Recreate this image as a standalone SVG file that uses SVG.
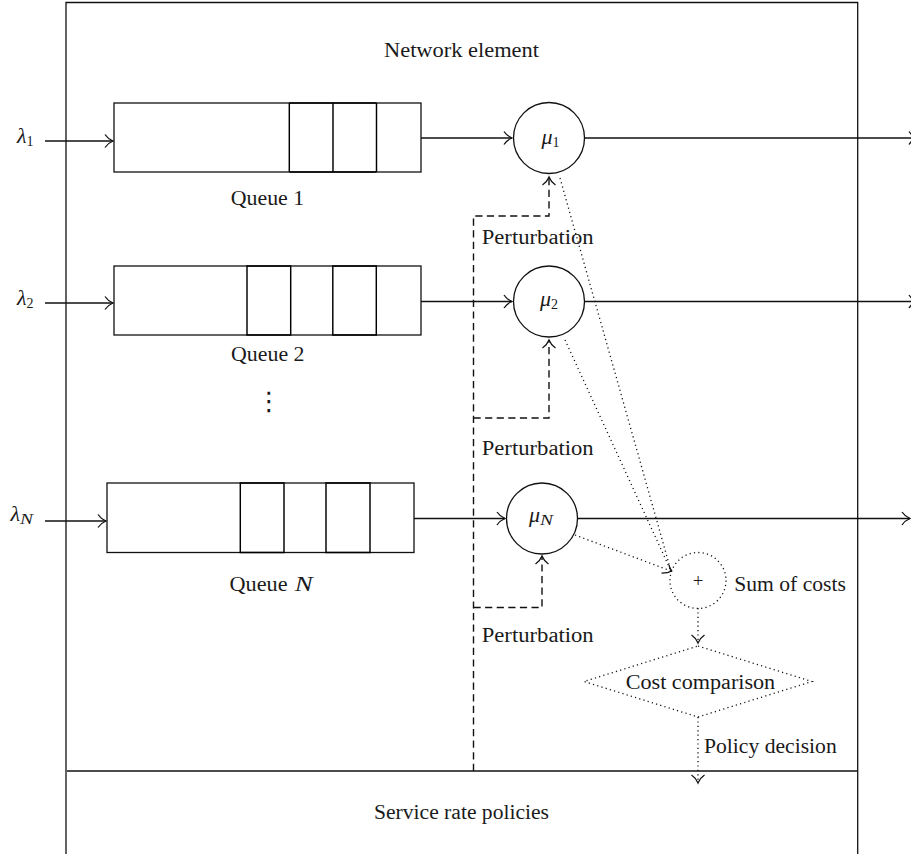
<svg xmlns="http://www.w3.org/2000/svg" width="911" height="854" viewBox="0 0 911 854">
<style>
text{font-family:"Liberation Serif","DejaVu Serif",serif;font-size:20px;fill:#1a1a1a}
.m{font-style:italic;font-size:22px}
.s{font-size:14px;font-style:normal}
.i{font-style:italic}
.box,.c{fill:none;stroke:#111;stroke-width:1.3}
.p{fill:none;stroke:#000;stroke-width:1.45}
.ln{fill:none;stroke:#111;stroke-width:1.4}
.d{fill:none;stroke:#111;stroke-width:1.4;stroke-dasharray:7.2 4.4}
.o{fill:none;stroke:#111;stroke-width:1.3;stroke-dasharray:1.2 3.2}
.ah{fill:none;stroke:#111;stroke-width:1.3}
</style>
<defs>
<marker id="a" markerUnits="userSpaceOnUse" markerWidth="14" markerHeight="18" refX="9" refY="9" orient="auto" overflow="visible"><path class="ah" d="M1,2.5 Q4,7 9,9 Q4,11 1,15.5"/></marker>
</defs>
<rect width="911" height="854" fill="#fff"/>
<g id="boundary">
<path class="box" d="M66,854V2.5H857.7V854"/>
<path class="ln" d="M67,771H857"/>
</g>
<g id="connectors">
<path class="ln" marker-end="url(#a)" d="M45,141H113"/>
<path class="ln" marker-end="url(#a)" d="M45,303H113"/>
<path class="ln" marker-end="url(#a)" d="M45,521H106"/>
<path class="ln" marker-end="url(#a)" d="M421,138H512"/>
<path class="ln" marker-end="url(#a)" d="M421,301.5H512"/>
<path class="ln" marker-end="url(#a)" d="M414,518.5H505"/>
<path class="ln" marker-end="url(#a)" d="M584.5,138H917"/>
<path class="ln" marker-end="url(#a)" d="M584.5,301.5H917"/>
<path class="ln" marker-end="url(#a)" d="M577.5,518.5H910"/>
<path class="d" marker-end="url(#a)" d="M473.5,771V216H549V177"/>
<path class="d" marker-end="url(#a)" d="M473.5,418H549V340"/>
<path class="d" marker-end="url(#a)" d="M473.5,607.5H542V556"/>
<path class="o" d="M560,178L671,571"/>
<path class="o" d="M565,340L671,571"/>
<path class="o" d="M575,535L671,571"/>
<path class="ah" d="M661.5,573.2Q668,573.2 672,571M669,565Q669.5,569 672,571"/>
<path class="o" marker-end="url(#a)" d="M698,608V643"/>
<path class="o" marker-end="url(#a)" d="M698,717V783"/>
</g>
<g id="queue1">
<rect class="box" x="114" y="103" width="307" height="69"/>
<path class="p" d="M289.3,103H376.5M289.3,172H376.5M289.3,103V172M333,103V172M376.5,103V172"/>
<text x="230.7" y="205" textLength="73.5" lengthAdjust="spacingAndGlyphs">Queue 1</text>
</g>
<g id="queue2">
<rect class="box" x="114" y="266" width="307" height="69"/>
<path class="p" d="M247,266H290.7V335H247ZM332.8,266H376.3V335H332.8Z"/>
<text x="231" y="361" textLength="73.5" lengthAdjust="spacingAndGlyphs">Queue 2</text>
</g>
<g id="queueN">
<rect class="box" x="107" y="483" width="307" height="69.5"/>
<path class="p" d="M240.3,483H284V552.5H240.3ZM326,483H370V552.5H326Z"/>
<text x="229.5" y="591"><tspan textLength="58" lengthAdjust="spacingAndGlyphs">Queue</tspan><tspan class="i" x="294.7" textLength="18" lengthAdjust="spacingAndGlyphs">N</tspan></text>
</g>
<g id="dots"><text x="256" y="410" style="font-family:'DejaVu Sans',sans-serif;font-size:26px">⋮</text></g>
<g id="mu1"><circle class="c" cx="549" cy="138" r="35.5"/><text class="m" x="541.5" y="144">μ<tspan class="s" dy="2.5">1</tspan></text></g>
<g id="mu2"><circle class="c" cx="549" cy="301.5" r="35.5"/><text class="m" x="540" y="306">μ<tspan class="s" dy="2.5">2</tspan></text></g>
<g id="muN"><circle class="c" cx="542" cy="518.5" r="35.5"/><text class="m" x="529" y="522">μ<tspan class="s" dy="3" style="font-style:italic" textLength="13" lengthAdjust="spacingAndGlyphs">N</tspan></text></g>
<g id="lambda1"><text class="m" x="17" y="143">λ<tspan class="s" dy="2.5">1</tspan></text></g>
<g id="lambda2"><text class="m" x="17" y="305">λ<tspan class="s" dy="2.5">2</tspan></text></g>
<g id="lambdaN"><text class="m" x="10.5" y="521">λ<tspan class="s" dy="3" style="font-style:italic" textLength="13" lengthAdjust="spacingAndGlyphs">N</tspan></text></g>
<g id="sum"><circle class="o" cx="698" cy="580.5" r="28"/><text x="698" y="587" text-anchor="middle" style="font-size:19px">+</text><text x="734.3" y="590.7" textLength="111.5" lengthAdjust="spacingAndGlyphs">Sum of costs</text></g>
<g id="compare"><path class="o" d="M698,646L812,681.5L698,717L584,681.5Z"/><text x="625.7" y="689" textLength="149.5" lengthAdjust="spacingAndGlyphs">Cost comparison</text></g>
<g id="labels">
<text x="384" y="57" textLength="155" lengthAdjust="spacingAndGlyphs">Network element</text>
<text x="374" y="819" textLength="175" lengthAdjust="spacingAndGlyphs">Service rate policies</text>
<text x="481.7" y="244.3" textLength="112" lengthAdjust="spacingAndGlyphs">Perturbation</text>
<text x="481.7" y="454.7" textLength="112" lengthAdjust="spacingAndGlyphs">Perturbation</text>
<text x="481.7" y="641.7" textLength="112" lengthAdjust="spacingAndGlyphs">Perturbation</text>
<text x="704" y="753" textLength="132.7" lengthAdjust="spacingAndGlyphs">Policy decision</text>
</g>
</svg>
